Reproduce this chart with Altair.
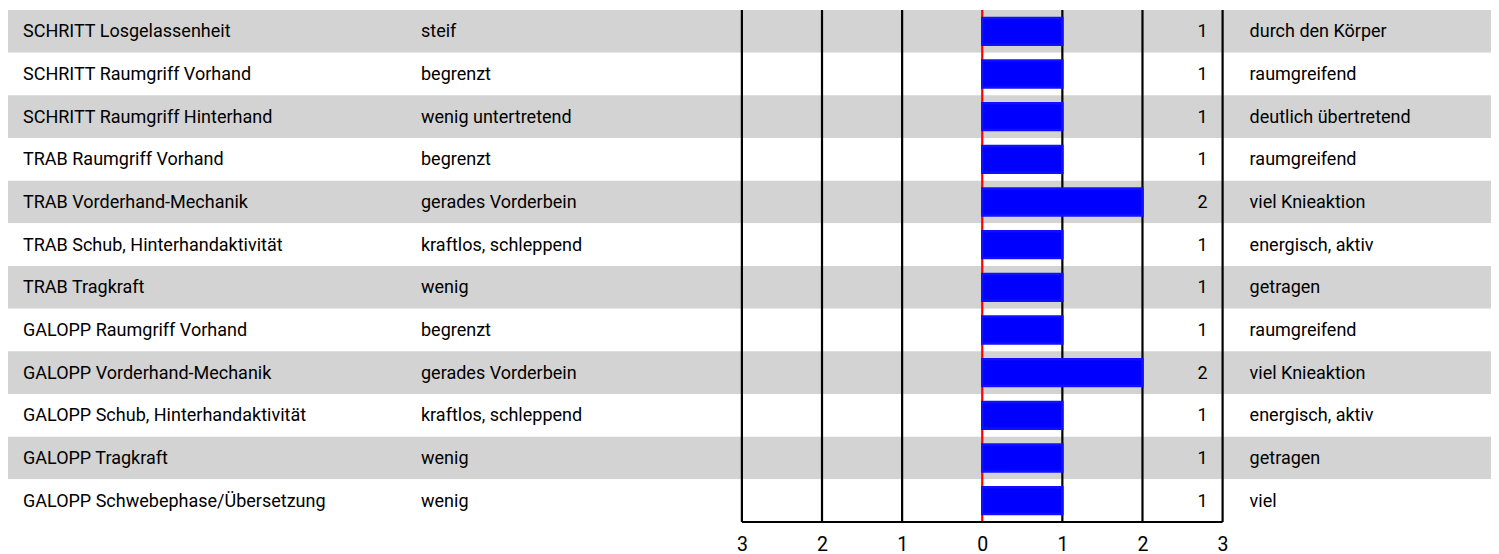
import altair as alt
import pandas as pd

kriterien = [
    "SCHRITT Losgelassenheit",
    "SCHRITT Raumgriff Vorhand",
    "SCHRITT Raumgriff Hinterhand",
    "TRAB Raumgriff Vorhand",
    "TRAB Vorderhand-Mechanik",
    "TRAB Schub, Hinterhandaktivität",
    "TRAB Tragkraft",
    "GALOPP Raumgriff Vorhand",
    "GALOPP Vorderhand-Mechanik",
    "GALOPP Schub, Hinterhandaktivität",
    "GALOPP Tragkraft",
    "GALOPP Schwebephase/Übersetzung",
]
links = [
    "steif", "begrenzt", "wenig untertretend", "begrenzt", "gerades Vorderbein",
    "kraftlos, schleppend", "wenig", "begrenzt", "gerades Vorderbein",
    "kraftlos, schleppend", "wenig", "wenig",
]
rechts = [
    "durch den Körper", "raumgreifend", "deutlich übertretend", "raumgreifend",
    "viel Knieaktion", "energisch, aktiv", "getragen", "raumgreifend",
    "viel Knieaktion", "energisch, aktiv", "getragen", "viel",
]
werte = [1, 1, 1, 1, 2, 1, 1, 1, 2, 1, 1, 1]
skala = [-3, -2, -1, 0, 1, 2, 3]

FONT = "Roboto, Liberation Sans, sans-serif"
FS = 18
PLOT_W = 1483
PLOT_H = 512

df = pd.DataFrame({
    "kriterium": kriterien,
    "links": links,
    "rechts": rechts,
    "wert": werte,
    "streifen": ["grau" if i % 2 == 0 else "weiss" for i in range(len(kriterien))],
})
df_skala = pd.DataFrame({"t": skala})
df_linie = pd.DataFrame({"von": [skala[0]], "bis": [skala[-1]]})

xscale = alt.Scale(domain=[-12.16, 6.35], nice=False, zero=False)
yenc = alt.Y("kriterium:N", sort=kriterien, axis=None,
             scale=alt.Scale(paddingInner=0, paddingOuter=0))

base = alt.Chart(df)

bands = base.mark_rect().encode(
    y=yenc,
    x=alt.value(0),
    x2=alt.value(PLOT_W),
    color=alt.Color("streifen:N", legend=None,
                    scale=alt.Scale(domain=["grau", "weiss"], range=["#d3d3d3", "#ffffff"])),
)

grid = alt.Chart(df_skala).mark_rule(strokeWidth=2.2).encode(
    x=alt.X("t:Q", scale=xscale,
            axis=alt.Axis(values=skala, labelExpr="abs(datum.value)", domain=False,
                          ticks=False, grid=False, title=None, labelFont=FONT,
                          labelFontSize=19.5, labelColor="#000000", labelPadding=13)),
    color=alt.condition("datum.t == 0", alt.value("#ff0000"), alt.value("#000000")),
)

linie = alt.Chart(df_linie).mark_rule(strokeWidth=2.2, color="#000000").encode(
    x=alt.X("von:Q", scale=xscale),
    x2="bis:Q",
    y=alt.value(PLOT_H),
)

bars = base.mark_bar(color="#0000ff", stroke="#1010ff", strokeWidth=2.5,
                     height={"band": 0.63}).encode(
    y=yenc,
    x=alt.X("wert:Q", scale=xscale),
    x2=alt.datum(0),
)

txt_kw = dict(baseline="middle", font=FONT, fontSize=FS, color="#000000")

t_links = base.mark_text(align="left", dy=1, **txt_kw).encode(
    y=yenc, x=alt.value(15), text="kriterium:N")
t_mitte = base.mark_text(align="left", dy=1, **txt_kw).encode(
    y=yenc, x=alt.value(413), text="links:N")
t_wert = base.mark_text(align="right", dx=-15, dy=1, **txt_kw).encode(
    y=yenc, x=alt.datum(3, scale=xscale), text="wert:Q")
t_rechts = base.mark_text(align="left", dx=27, dy=1, **txt_kw).encode(
    y=yenc, x=alt.datum(3, scale=xscale), text="rechts:N")

chart = alt.layer(bands, grid, linie, bars, t_links, t_mitte, t_wert, t_rechts).properties(
    width=PLOT_W, height=PLOT_H,
    autosize=alt.AutoSizeParams(type="none"),
    padding={"left": 0, "right": 0, "top": 2, "bottom": 32},
).configure_view(stroke=None)

chart.save("out.html", embed_options={"renderer": "svg", "actions": False})
